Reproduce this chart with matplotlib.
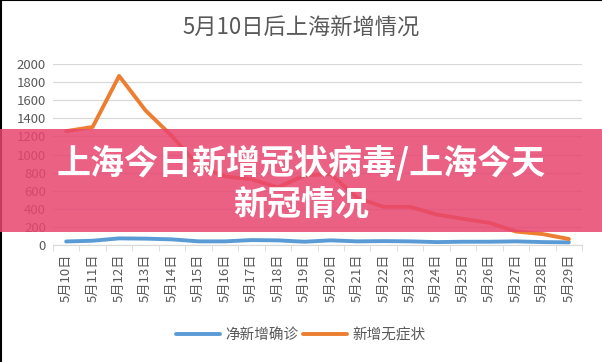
import matplotlib
matplotlib.use("Agg")
from matplotlib import pyplot as plt
from matplotlib.patches import Rectangle
from matplotlib.lines import Line2D

plt.rcParams['font.family'] = ['Noto Sans CJK SC', 'DejaVu Sans']

# 数据
days = ["5月%d日" % d for d in range(10, 30)]
confirmed = [40, 48, 74, 71, 63, 41, 41, 55, 52, 37, 52, 41, 44, 41, 33, 37, 37, 41, 33, 30]
asymptomatic = [1259, 1305, 1869, 1487, 1203, 869, 759, 727, 637, 770,
                784, 520, 422, 422, 338, 290, 245, 150, 122, 67]

fig = plt.figure(figsize=(6.02, 3.62), dpi=100)
ax = fig.add_axes([0.088, 0.323, 0.879, 0.5])

x = list(range(len(days)))
ax.plot(x, confirmed, color='#5B9BD5', lw=2.8, solid_capstyle='round', label='净新增确诊')
ax.plot(x, asymptomatic, color='#ED7D31', lw=2.8, solid_capstyle='round', label='新增无症状')

ax.set_ylim(0, 2000)
ax.set_yticks(range(0, 2001, 200))
ax.set_xlim(-0.5, len(days) - 0.5)
ax.set_xticks(x)
ax.set_xticklabels(days, rotation=90, fontsize=9.5, color='#595959')
ax.set_xticks([i - 0.5 for i in range(len(days) + 1)], minor=True)
ax.tick_params(axis='x', which='major', length=0, pad=6)
ax.tick_params(axis='x', which='minor', length=4, color='#d9d9d9')
ax.tick_params(axis='y', length=0, labelsize=9.5, labelcolor='#595959', pad=5)
ax.grid(axis='y', color='#d9d9d9', lw=0.9)
ax.set_axisbelow(True)
for s in ['top', 'right', 'left']:
    ax.spines[s].set_visible(False)
ax.spines['bottom'].set_color('#d9d9d9')

fig.text(0.5, 1 - 28 / 362, "5月10日后上海新增情况", ha='center', va='center',
         fontsize=16, color='#595959')

# 图例
handles = [Line2D([], [], color='#5B9BD5', lw=2.8, solid_capstyle='round'),
           Line2D([], [], color='#ED7D31', lw=2.8, solid_capstyle='round')]
fig.legend(handles, ['净新增确诊', '新增无症状'], loc='center', bbox_to_anchor=(0.5, 1 - 335 / 362),
           ncol=2, frameon=False, fontsize=10.5, handlelength=3.0, columnspacing=0.3,
           handletextpad=0.4, labelcolor='#595959')

# 红色横幅
fig.patches.append(Rectangle((0, 1 - 232 / 362), 1, 103 / 362, transform=fig.transFigure,
                             facecolor='#e8456f', alpha=0.85, edgecolor='none', zorder=5))
fig.text(0.5, 1 - 163 / 362, "上海今日新增冠状病毒/上海今天", ha='center', va='center',
         fontsize=24.5, fontweight='heavy', color='white', zorder=6)
fig.text(0.5, 1 - 205 / 362, "新冠情况", ha='center', va='center',
         fontsize=24.5, fontweight='heavy', color='white', zorder=6)

# 边框
fig.add_artist(Line2D([0.001, 0.001], [0, 1], color='black', lw=1.5, transform=fig.transFigure))
fig.add_artist(Line2D([0, 1], [0.999, 0.999], color='black', lw=1.5, transform=fig.transFigure))

fig.savefig("out.png", dpi=100)
